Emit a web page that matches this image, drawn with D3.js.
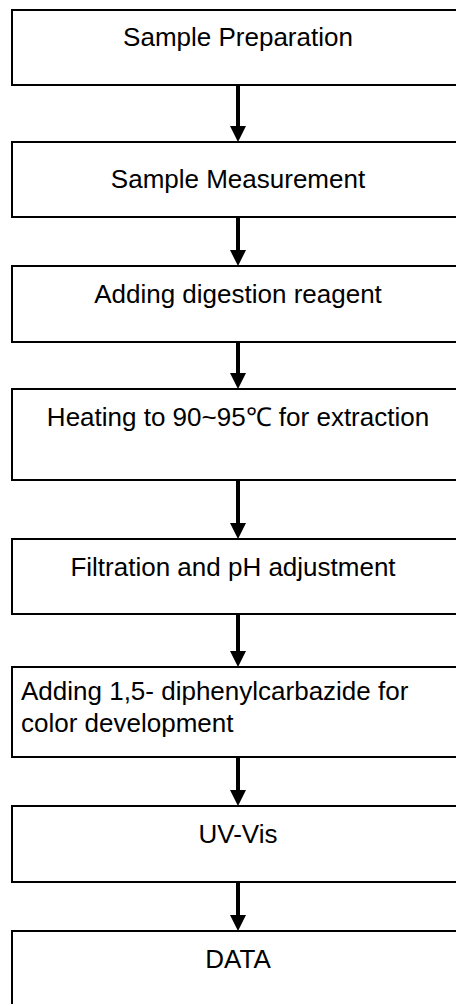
<!DOCTYPE html>
<html>
<head>
<meta charset="utf-8">
<script src="https://cdn.jsdelivr.net/npm/d3@7"></script>
<style>
  html, body { margin: 0; padding: 0; background: #fff; }
  svg { display: block; }
</style>
</head>
<body>
<div id="chart"></div>
<script>
// Flowchart steps (text lines per box)
const steps = [
  ["Sample Preparation"],
  ["Sample Measurement"],
  ["Adding digestion reagent"],
  ["Heating to 90~95\u2103 for extraction"],
  ["Filtration and pH adjustment"],
  ["Adding 1,5- diphenylcarbazide for", "color development"],
  ["UV-Vis"],
  ["DATA"]
];
const stepAlign = ["middle", "middle", "middle", "middle", "middle", "start", "middle", "middle"];

// layout (pixels)
const boxTop =    [10, 142, 266, 389, 539, 667, 806, 931];
const boxBottom = [85, 217, 342, 480, 614, 757, 882, 1007];
const textOffset = [36, 46, 37, 37, 37, 33, 37, 37];
const textShift = [0, 0, 0, 0, -5, 0, 0, 0];

const W = 456, H = 1004;
const boxLeft = 12, boxRight = 464, centerX = 238, leftPad = 21;
const lineGap = 32;

const svg = d3.select("#chart").append("svg")
  .attr("width", W).attr("height", H);

const data = steps.map((lines, i) => ({
  lines, align: stepAlign[i], top: boxTop[i], bottom: boxBottom[i],
  off: textOffset[i], shift: textShift[i]
}));

const g = svg.selectAll("g.step").data(data).join("g").attr("class", "step");

g.append("rect")
  .attr("x", boxLeft)
  .attr("y", d => d.top)
  .attr("width", boxRight - boxLeft)
  .attr("height", d => d.bottom - d.top)
  .attr("fill", "#fff")
  .attr("stroke", "#000")
  .attr("stroke-width", 2);

g.each(function(d) {
  const sel = d3.select(this);
  d.lines.forEach((ln, j) => {
    sel.append("text")
      .attr("x", d.align === "start" ? leftPad : centerX + d.shift)
      .attr("y", d.top + d.off + j * lineGap)
      .attr("text-anchor", d.align)
      .attr("font-family", "Arial, 'Liberation Sans', sans-serif")
      .attr("font-size", 26)
      .attr("fill", "#000")
      .text(ln);
  });
});

// arrows between consecutive boxes
const arrows = d3.range(steps.length - 1).map(i => ({ y1: boxBottom[i], y2: boxTop[i + 1] }));
const headH = 16, headW = 16;
const ag = svg.selectAll("g.arrow").data(arrows).join("g").attr("class", "arrow");
ag.append("line")
  .attr("x1", centerX).attr("x2", centerX)
  .attr("y1", d => d.y1).attr("y2", d => d.y2 - headH + 1)
  .attr("stroke", "#000").attr("stroke-width", 4);
ag.append("path")
  .attr("d", d => d3.line()([[centerX - headW / 2, d.y2 - headH], [centerX + headW / 2, d.y2 - headH], [centerX, d.y2]]) + "Z")
  .attr("fill", "#000");
</script>
</body>
</html>
